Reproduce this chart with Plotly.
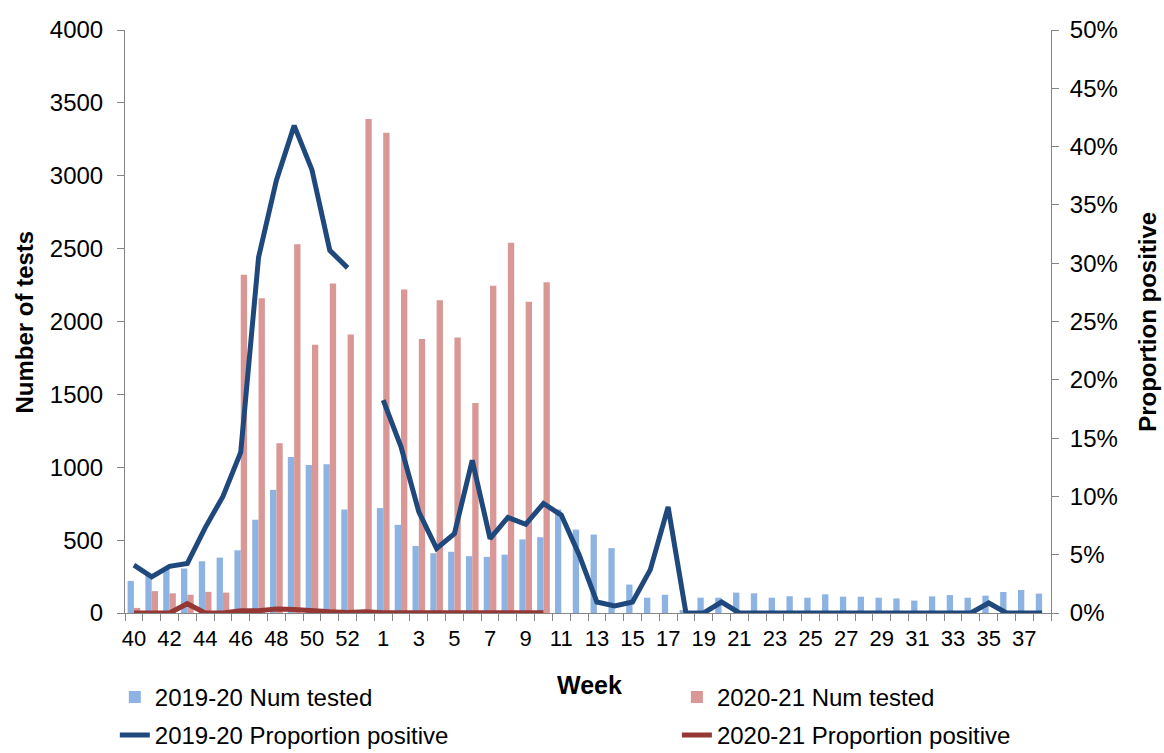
import plotly.graph_objects as go

weeks = [str(w) for w in range(40, 54)] + [str(w) for w in range(1, 39)]

num_tested_2019 = [220, 258, 300, 305, 355, 380, 430, 640, 845, 1070, 1015, 1020, 710, None,
                   720, 605, 460, 410, 420, 390, 385, 400, 505, 520, 710, 572, 538, 445, 195,
                   105, 125, 20, 105, 105, 140, 135, 105, 115, 105, 128, 112, 112, 105, 100,
                   85, 114, 123, 105, 119, 144, 158, 133]

num_tested_2020 = [35, 150, 135, 125, 145, 140, 2320, 2160, 1165, 2530, 1840, 2260, 1910, 3390,
                   3295, 2220, 1880, 2145, 1890, 1440, 2245, 2540, 2135, 2270] + [None] * 28

prop_pos_2019 = [4.1, 3.1, 4.0, 4.25, 7.3, 10.0, 13.8, 30.5, 37.1, 41.8, 38.0, 31.1, 29.6, None,
                 18.25, 14.25, 8.67, 5.53, 6.81, 13.1, 6.38, 8.19, 7.61, 9.39, 8.4, 5.0, 0.94,
                 0.6, 0.94, 3.72, 9.1, 0, 0, 0.94, 0, 0, 0, 0, 0, 0, 0, 0, 0, 0, 0, 0, 0, 0,
                 0.86, 0, 0, 0]

prop_pos_2020 = [0, 0, 0, 0.8, 0, 0, 0.2, 0.2, 0.35, 0.3, 0.15, 0.1, 0.05, 0.1,
                 0.03, 0.03, 0.03, 0.03, 0.03, 0.03, 0.03, 0.03, 0.03, 0.03] + [None] * 28

x = list(range(len(weeks)))
label_idx = x[::2]
label_txt = [weeks[i] for i in label_idx]

FONT = "Liberation Sans, Arial, sans-serif"
AX = "#868686"

fig = go.Figure()
fig.add_trace(go.Bar(x=x, y=num_tested_2019, name="2019-20 Num tested",
                     marker=dict(color="#8DB3E2", line=dict(width=0)),
                     legend="legend", legendgroup="a"))
fig.add_trace(go.Bar(x=x, y=num_tested_2020, name="2020-21 Num tested",
                     marker=dict(color="#D99795", line=dict(width=0)),
                     legend="legend2", legendgroup="b"))
fig.add_trace(go.Scatter(x=x, y=[None if v is None else v / 100 for v in prop_pos_2019],
                         name="2019-20 Proportion positive", yaxis="y2", mode="lines",
                         line=dict(color="#1F497D", width=5), connectgaps=False,
                         cliponaxis=False, legend="legend", legendgroup="c"))
fig.add_trace(go.Scatter(x=x, y=[None if v is None else v / 100 for v in prop_pos_2020],
                         name="2020-21 Proportion positive", yaxis="y2", mode="lines",
                         line=dict(color="#953735", width=5), connectgaps=False,
                         cliponaxis=False, legend="legend2", legendgroup="d"))

fig.update_layout(
    width=1164, height=753,
    margin=dict(l=125, r=113, t=30, b=140, autoexpand=False),
    paper_bgcolor="white", plot_bgcolor="white",
    font=dict(family=FONT, size=22, color="black"),
    barmode="group", bargap=0.29, bargroupgap=0,
    xaxis=dict(range=[-0.5, len(weeks) - 0.5], tickmode="array", tickvals=label_idx,
               ticktext=label_txt, ticks="", showline=True, linecolor=AX, linewidth=1,
               showgrid=False, zeroline=False, tickfont=dict(size=22), ticklabelstandoff=6,
               minor=dict(tick0=-0.5, dtick=1, ticks="outside", ticklen=7,
                          tickcolor=AX, tickwidth=1, showgrid=False)),
    yaxis=dict(range=[0, 4000], dtick=500, ticks="outside", ticklen=7, tickcolor=AX,
               showline=True, linecolor=AX, linewidth=1, showgrid=False, zeroline=False,
               ticklabelstandoff=9, tickfont=dict(size=24)),
    yaxis2=dict(range=[0, 0.5], dtick=0.05, tickformat=".0%", overlaying="y", side="right",
                ticks="outside", ticklen=7, tickcolor=AX, showline=True, linecolor=AX,
                linewidth=1, showgrid=False, zeroline=False, ticklabelstandoff=6,
                tickfont=dict(size=24)),
    legend=dict(x=-0.011, y=-0.106, xanchor="left", yanchor="top", orientation="v",
                font=dict(size=24), tracegroupgap=4, bgcolor="rgba(0,0,0,0)"),
    legend2=dict(x=0.596, y=-0.106, xanchor="left", yanchor="top", orientation="v",
                 font=dict(size=24), tracegroupgap=4, bgcolor="rgba(0,0,0,0)"),
    annotations=[
        dict(text="<b>Number of tests</b>", xref="paper", yref="paper", x=-0.108, y=0.5,
             textangle=-90, showarrow=False, font=dict(size=24), xanchor="center", yanchor="middle"),
        dict(text="<b>Proportion positive</b>", xref="paper", yref="paper", x=1.104, y=0.5,
             textangle=-90, showarrow=False, font=dict(size=24), xanchor="center", yanchor="middle"),
        dict(text="<b>Week</b>", xref="paper", yref="paper", x=0.502, y=-0.124,
             showarrow=False, font=dict(size=25), xanchor="center", yanchor="middle"),
    ],
)

fig.write_html("out.html")
